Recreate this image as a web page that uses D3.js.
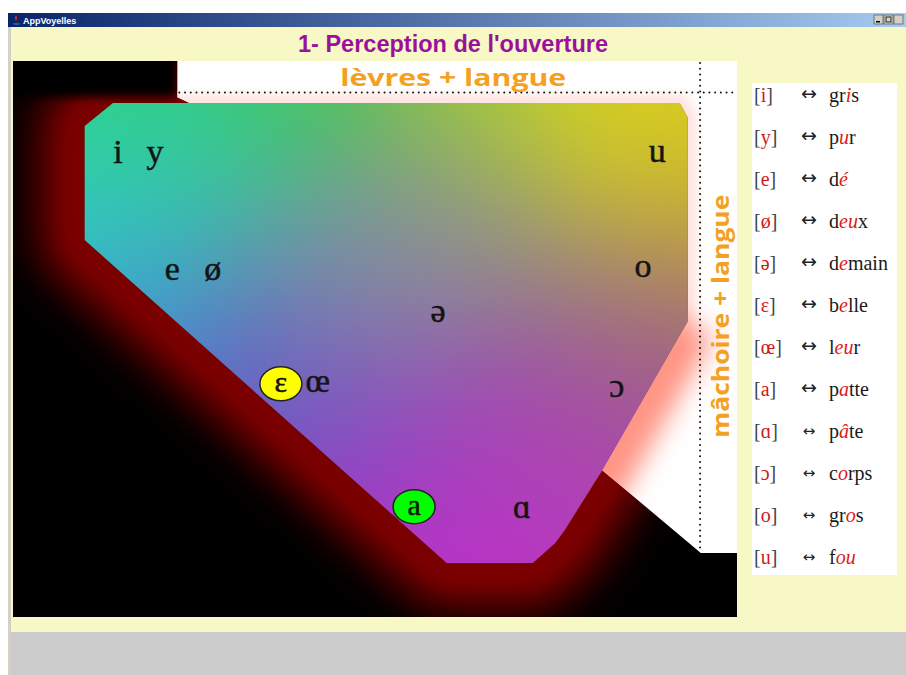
<!DOCTYPE html>
<html><head><meta charset="utf-8">
<script src="https://cdn.jsdelivr.net/npm/d3@7"></script>
<style>body{margin:0;background:#fff;overflow:hidden}svg{display:block}</style>
</head><body>
<svg id="c" width="906" height="675"></svg>
<script>
// ---- data ----
const vowels   = ["i","y","u","e","ø","o","ə","ɛ","œ","ɔ","a","ɑ"];
const vowelX   = [14.5,19.6,89.0,22.0,27.6,87.0,58.7,37.0,42.1,83.4,55.4,70.3];
const vowelY   = [18.3,18.3,18.2,39.4,39.4,38.8,46.9,59.5,59.5,60.4,81.6,82.2];
const marked   = ["ɛ","a"];
const markFill = ["#ffff00","#00ff00"];

const outlineX = [13.8,92.1,93.2,93.2,81.4,76.2,74.9,71.8,59.9,9.9,9.9];
const outlineY = [7.55,7.55,10.1,46.9,73.6,84.4,86.7,90.3,90.3,32.2,11.7];
const openX = [22.7,100,100,95.0,81.4,93.2,93.2,92.1,24.4,22.7];
const openY = [0,0,88.5,88.5,73.6,46.9,10.1,7.55,7.55,6.5];

const legendSymbols = ["i","y","e","ø","ə","ɛ","œ","a","ɑ","ɔ","o","u"];
const legendPre  = ["gr","p","d","d","d","b","l","p","p","c","gr","f"];
const legendRed  = ["i","u","é","eu","e","e","eu","a","â","o","o","ou"];
const legendPost = ["s","r","","x","main","lle","r","tte","te","rps","s",""];

const axisTop = "lèvres + langue";
const axisRight = "mâchoire + langue";
const title = "1- Perception de l'ouverture";
const appName = "AppVoyelles";

// colour anchors of the vowel space
const gradX = [13.4,39.6,64.5,83.8,92.1,88.0,11.3,25.8,42.4,59.0,75.6,90.7,18.9,36.9,50.7,67.3,83.8,60.4,75.6,52.0];
const gradY = [8.8,7.9,8.8,9.7,25.0,14.0,25.0,19.6,34.0,28.6,35.8,43.0,41.2,53.8,66.4,61.0,59.2,86.2,75.4,45.0];
const gradC = ["#2ed36a","#40c850","#9ccc38","#dcdc18","#c8a830","#e0d418","#2ed2d6","#30cca8","#7898a8","#8e9290","#8e8c84","#a06878","#4490d0","#6058c8","#8c40c8","#a048b0","#a05890","#c030c8","#b838c0","#8c84a0"];

// ---- layout ----
const svg = d3.select("#c");
const X0=13, X1=737, Y0=61, Y1=617;
const x = d3.scaleLinear().domain([0,100]).range([X0,X1]);
const y = d3.scaleLinear().domain([0,100]).range([Y0,Y1]);
const defs = svg.append("defs");

// window frame
svg.append("rect").attr("x",0).attr("y",0).attr("width",906).attr("height",675).attr("fill","#ffffff");
const tg = defs.append("linearGradient").attr("id","tb");
tg.append("stop").attr("offset","0").attr("stop-color","#0a246a");
tg.append("stop").attr("offset","1").attr("stop-color","#a6caf0");
svg.append("rect").attr("x",8).attr("y",27).attr("width",898).attr("height",648).attr("fill","#d4d0c8");
svg.append("rect").attr("x",11).attr("y",27).attr("width",895).attr("height",605).attr("fill","#f8f8c6");
svg.append("rect").attr("x",11).attr("y",632).attr("width",895).attr("height",43).attr("fill","#cccccc");
svg.append("rect").attr("x",8).attr("y",13).attr("width",898).attr("height",14).attr("fill","url(#tb)");
// icon
svg.append("path").attr("d","M13 23 h7 l-1 2 h-5 z").attr("fill","#3050a0");
svg.append("path").attr("d","M16 15 q2 3 0 6 q-2 -3 0 -6z").attr("fill","#e03020");
svg.append("text").attr("x",23).attr("y",24).attr("fill","#fff").attr("font-family","Liberation Sans, Arial")
  .attr("font-weight","bold").attr("font-size",9).text(appName);
[874,884,894].forEach((bx,k)=>{
  svg.append("rect").attr("x",bx).attr("y",15).attr("width",9).attr("height",9).attr("fill","#d4d0c8").attr("stroke","#404040").attr("stroke-width",0.6);
});
svg.append("rect").attr("x",876).attr("y",21).attr("width",4).attr("height",1.5).attr("fill","#000");
svg.append("rect").attr("x",886).attr("y",17).attr("width",5).attr("height",5).attr("fill","none").attr("stroke","#000").attr("stroke-width",0.8);

svg.append("text").attr("x",453).attr("y",52).attr("text-anchor","middle")
  .attr("font-family","'Liberation Sans Narrow','Arial Narrow','Liberation Sans',Arial")
  .attr("font-weight","bold").attr("font-size",23).attr("fill","#9c109c")
  .attr("textLength",310).attr("lengthAdjust","spacingAndGlyphs").text(title);

// ---- picture ----
const ptsOutline = outlineX.map((v,i)=>[x(v),y(outlineY[i])]);
const ptsOpen = openX.map((v,i)=>[x(v),y(openY[i])]);
const line = d3.line().curve(d3.curveLinearClosed);

defs.append("clipPath").attr("id","area").append("rect").attr("x",X0).attr("y",Y0).attr("width",X1-X0).attr("height",Y1-Y0);
defs.append("clipPath").attr("id","openClip").append("path").attr("d",line(ptsOpen));
defs.append("clipPath").attr("id","shapeClip").append("path").attr("d",line(ptsOutline));
function blur(id,sd){
  defs.append("filter").attr("id",id).attr("x","-40%").attr("y","-40%").attr("width","180%").attr("height","180%")
    .append("feGaussianBlur").attr("stdDeviation",sd);
}
blur("blurR",22); blur("blurP",13); blur("blurS",5); blur("blurT",8);

const pic = svg.append("g").attr("clip-path","url(#area)");
pic.append("rect").attr("x",X0).attr("y",Y0).attr("width",X1-X0).attr("height",Y1-Y0).attr("fill","#000");
pic.append("path").attr("d",line(ptsOutline)).attr("fill","#800000").attr("stroke","#800000")
  .attr("stroke-width",90).attr("stroke-linejoin","round").attr("filter","url(#blurR)");
pic.append("path").attr("d",line(ptsOutline)).attr("fill","none").attr("stroke","#7a0000")
  .attr("stroke-width",36).attr("stroke-linejoin","round").attr("filter","url(#blurT)");
pic.append("rect").attr("x",X0-20).attr("y",Y0-20).attr("width",x(22.7)-X0+20).attr("height",y(6.5)-Y0+20)
  .attr("fill","#000").attr("filter","url(#blurS)");
// white area with pink glow
const wg = pic.append("g").attr("clip-path","url(#openClip)");
wg.append("rect").attr("x",X0).attr("y",Y0).attr("width",X1-X0).attr("height",Y1-Y0).attr("fill","#fff");
wg.append("path").attr("d",line(ptsOutline)).attr("fill","#ffe4e0").attr("stroke","#ffe4e0")
  .attr("stroke-width",18).attr("filter","url(#blurS)");
wg.append("path").attr("d",d3.line()([ptsOutline[2],ptsOutline[3]])).attr("fill","none")
  .attr("stroke","#ffc8c0").attr("stroke-width",16).attr("filter","url(#blurS)");
wg.append("path").attr("d",d3.line()([ptsOutline[3],ptsOutline[4],ptsOutline[5]])).attr("fill","none")
  .attr("stroke","#ff9484").attr("stroke-width",60).attr("filter","url(#blurP)");

// coloured vowel space (smooth blend of colour anchors)
const W = X1-X0, H = Y1-Y0;
const cv = document.createElement("canvas"); cv.width=W; cv.height=H;
const ctx = cv.getContext("2d");
const img = ctx.createImageData(W,H);
const anc = gradC.map((c,i)=>{const r=d3.rgb(c);return [x(gradX[i])-X0,y(gradY[i])-Y0,r.r,r.g,r.b];});
const s2 = 2*80*80;
for(let py=0;py<H;py++){for(let px=0;px<W;px++){
  let sw=0,r=0,g=0,b=0;
  for(const a of anc){const dx=px-a[0],dy=py-a[1];const w=Math.exp(-(dx*dx+dy*dy)/s2)+1e-9;sw+=w;r+=w*a[2];g+=w*a[3];b+=w*a[4];}
  const k=(py*W+px)*4; img.data[k]=r/sw; img.data[k+1]=g/sw; img.data[k+2]=b/sw; img.data[k+3]=255;
}}
ctx.putImageData(img,0,0);
pic.append("g").attr("clip-path","url(#shapeClip)").append("image")
  .attr("x",X0).attr("y",Y0).attr("width",W).attr("height",H).attr("href",cv.toDataURL());

// dotted guides
pic.append("line").attr("x1",x(22.7)+2).attr("x2",X1).attr("y1",y(5.67)).attr("y2",y(5.67))
  .attr("stroke","#111").attr("stroke-width",2).attr("stroke-linecap","round").attr("stroke-dasharray","0 5.7");
pic.append("line").attr("x1",x(94.9)).attr("x2",x(94.9)).attr("y1",Y0+2).attr("y2",y(88.5))
  .attr("stroke","#111").attr("stroke-width",2).attr("stroke-linecap","round").attr("stroke-dasharray","0 5.7");

// axis captions
pic.append("text").attr("x",x(60.8)).attr("y",y(4.5)).attr("text-anchor","middle")
  .attr("font-family","'Open Sans','DejaVu Sans',sans-serif").attr("font-weight","bold").attr("font-size",23)
  .attr("fill","#f4a020").attr("textLength",226).attr("lengthAdjust","spacingAndGlyphs").text(axisTop);
pic.append("text").attr("transform",`translate(${x(98.9)},${y(45.9)}) rotate(-90)`).attr("text-anchor","middle")
  .attr("font-family","'Open Sans','DejaVu Sans',sans-serif").attr("font-weight","bold").attr("font-size",23)
  .attr("fill","#f4a020").attr("textLength",243).attr("lengthAdjust","spacingAndGlyphs").text(axisRight);

// vowels
vowels.forEach((v,i)=>{
  const m = marked.indexOf(v);
  const cx = x(vowelX[i]), cy = y(vowelY[i]);
  if(m>=0){
    pic.append("ellipse").attr("cx",cx).attr("cy",cy-8).attr("rx",21).attr("ry",17)
      .attr("fill",markFill[m]).attr("stroke","#222").attr("stroke-width",1.5);
  }
  pic.append("text").attr("x",cx).attr("y",cy).attr("text-anchor","middle")
    .attr("font-family","'Liberation Serif','Times New Roman',serif")
    .attr("font-size", m>=0?30:34).attr("fill","#141414").attr("stroke","#141414").attr("stroke-width",0.5).text(v);
});

// ---- legend ----
svg.append("rect").attr("x",752).attr("y",83).attr("width",145).attr("height",492).attr("fill","#ffffff");
const ly = d3.scalePoint().domain(legendSymbols).range([102,564]);
legendSymbols.forEach((s,i)=>{
  const yy = ly(s);
  const t = svg.append("text").attr("x",754).attr("y",yy).attr("font-family","'Liberation Serif','Times New Roman',serif")
    .attr("font-size",20).attr("fill","#444");
  t.append("tspan").text("[");
  t.append("tspan").attr("fill","#d01818").text(s);
  t.append("tspan").text("]");
  svg.append("text").attr("x",809).attr("y",yy-2).attr("text-anchor","middle")
    .attr("font-family","'DejaVu Sans',sans-serif").attr("font-size",i<8?19:15).attr("fill","#222").text("↔");
  const w = svg.append("text").attr("x",829).attr("y",yy).attr("font-family","'Liberation Serif','Times New Roman',serif")
    .attr("font-size",20).attr("fill","#1a1a1a");
  w.append("tspan").text(legendPre[i]);
  w.append("tspan").attr("fill","#e01818").attr("font-style","italic").text(legendRed[i]);
  w.append("tspan").text(legendPost[i]);
});
</script>
</body></html>
